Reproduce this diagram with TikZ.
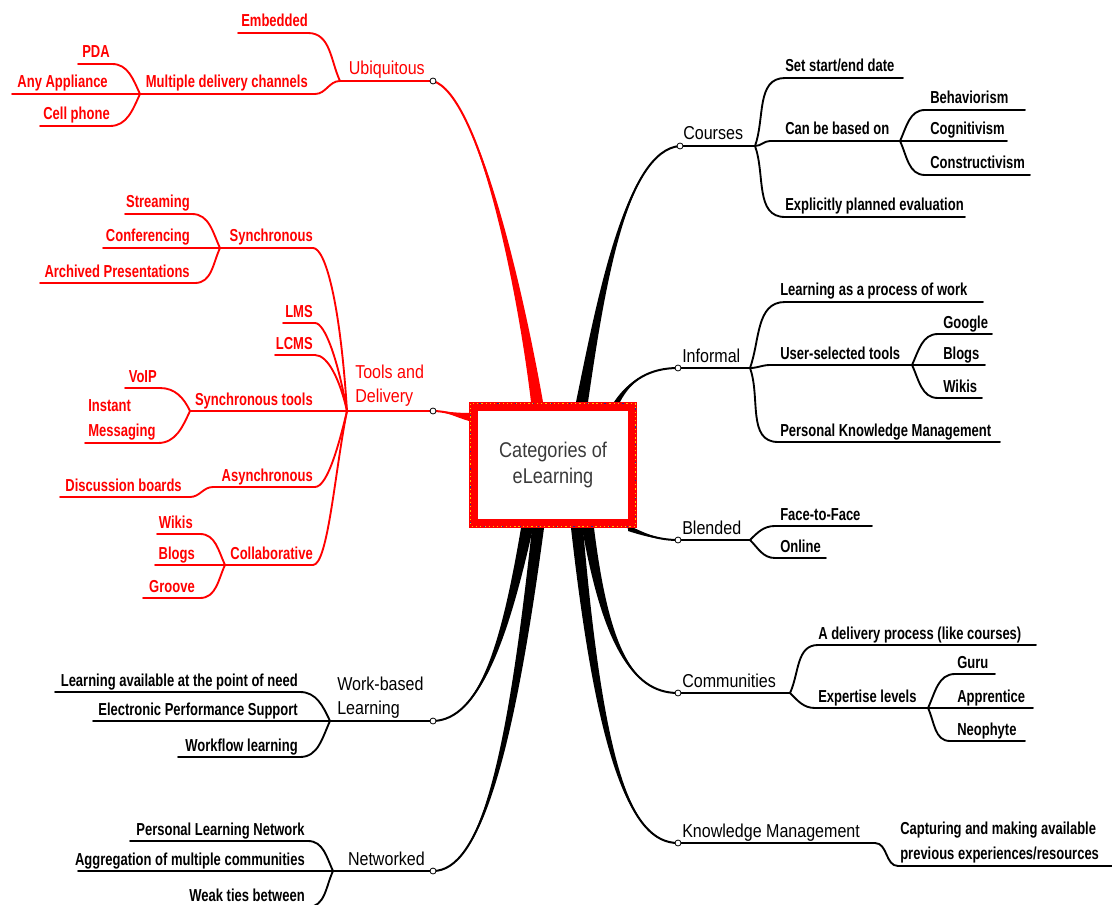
\documentclass[tikz,border=0pt]{standalone}
\usepackage{fontspec}
\setmainfont{Liberation Sans}
\newfontfamily\lfont[FakeStretch=0.75]{Liberation Sans}
\newfontfamily\mfont[FakeStretch=0.86]{Liberation Sans}
\newfontfamily\cfont[FakeStretch=0.85]{Liberation Sans}
\usetikzlibrary{calc}
\definecolor{boxtext}{HTML}{3A3A3A}
\definecolor{dotyel}{HTML}{FFC400}
\definecolor{dotblue}{HTML}{2030A0}
\tikzset{
  leaf/.style={font=\lfont\bfseries\fontsize{13}{18.75}\selectfont, inner sep=0pt},
  mainlbl/.style={font=\mfont\fontsize{14}{18}\selectfont, inner sep=0pt},
  ul/.style={line width=1.4pt, line cap=round},
  knob/.style={circle, draw=black, fill=white, line width=0.6pt, inner sep=0pt, minimum size=4.5pt},
}
% leaf: color, name, x1, x2, y, anchor, text x, text
\newcommand\lf[8]{%
  \coordinate (#2-l) at (#3,#5);
  \coordinate (#2-r) at (#4,#5);
  \draw[ul,#1] (#2-l) -- (#2-r);
  \node[leaf,text=#1,anchor=#6] (#2) at (#7,#5-6) {#8};
}
\newcommand\mlf[8]{%
  \coordinate (#2-l) at (#3,#5);
  \coordinate (#2-r) at (#4,#5);
  \draw[ul,#1] (#2-l) -- (#2-r);
  \node[mainlbl,text=#1,anchor=#6] (#2) at (#7,#5-6) {#8};
}
\newcommand\uline[5]{%
  \coordinate (#2-l) at (#3,#5);
  \coordinate (#2-r) at (#4,#5);
  \draw[ul,#1] (#2-l) -- (#2-r);
}
% tapered main branch: color, start, c1, c2, end, half-width vector
\newcommand\taper[6]{%
  \fill[#1] ($(#2)+#6$) .. controls ($(#3)+0.5*#6$) and (#4) .. (#5)
     .. controls (#4) and ($(#3)-0.5*#6$) .. ($(#2)-#6$) -- cycle;
  \draw[#1,line width=1.5pt] (#2) .. controls (#3) and (#4) .. (#5);
}
\begin{document}
\begin{tikzpicture}[x=0.75pt,y=-0.75pt]
\useasboundingbox (0,0) rectangle (1112,905);
\fill[white] (0,0) rectangle (1112,905);

% ================= LEFT: Ubiquitous =================
\mlf{red}{ubi}{340}{433}{81}{base east}{425}{Ubiquitous}
\lf{red}{emb}{238}{308}{33}{base east}{308}{Embedded}
\lf{red}{mdc}{140}{315}{94}{base east}{308}{Multiple delivery channels}
\lf{red}{pda}{78}{112}{64}{base east}{110}{PDA}
\lf{red}{any}{12}{140}{94}{base east}{108}{Any Appliance}
\lf{red}{cell}{40}{110}{126}{base east}{110}{Cell phone}
\draw[ul,red] (emb-r) to[out=0,in=115] (ubi-l);
\draw[ul,red] (mdc-r) to[out=0,in=180] (ubi-l);
\draw[ul,red] (pda-r) to[out=0,in=115] (mdc-l);
\draw[ul,red] (cell-r) to[out=0,in=-115] (mdc-l);

% ================= LEFT: Tools and Delivery =================
\uline{red}{td}{347}{433}{411}
\node[mainlbl,text=red,align=left,anchor=west] (tdl) at (355,386) {Tools and\\Delivery};
\lf{red}{syn}{220}{313}{248}{base east}{313}{Synchronous}
\lf{red}{str}{125}{192}{214}{base east}{190}{Streaming}
\lf{red}{conf}{103}{220}{248}{base east}{190}{Conferencing}
\lf{red}{arch}{40}{195}{283}{base east}{190}{Archived Presentations}
\lf{red}{lms}{283}{315}{323}{base east}{313}{LMS}
\lf{red}{lcms}{275}{315}{355}{base east}{313}{LCMS}
\lf{red}{stl}{190}{347}{411}{base east}{313}{Synchronous tools}
\lf{red}{voip}{125}{160}{388}{base east}{157}{VoIP}
\uline{red}{im}{85}{158}{443}
\node[leaf,text=red,align=left,anchor=west] (iml) at (88,420) {Instant\\Messaging};
\lf{red}{asy}{213}{315}{487}{base east}{313}{Asynchronous}
\lf{red}{dis}{60}{190}{497}{base east}{182}{Discussion boards}
\lf{red}{col}{225}{313}{565}{base east}{313}{Collaborative}
\lf{red}{wik}{157}{200}{534}{base east}{193}{Wikis}
\lf{red}{blg}{155}{225}{565}{base east}{195}{Blogs}
\lf{red}{grv}{143}{200}{598}{base east}{195}{Groove}
\draw[ul,red] (str-r) to[out=0,in=115] (syn-l);
\draw[ul,red] (arch-r) to[out=0,in=-115] (syn-l);
\draw[ul,red] (syn-r) .. controls (325,248) and (340,300) .. (td-l);
\draw[ul,red] (lms-r) .. controls (325,323) and (338,360) .. (td-l);
\draw[ul,red] (lcms-r) .. controls (328,355) and (340,380) .. (td-l);
\draw[ul,red] (asy-r) .. controls (328,487) and (340,440) .. (td-l);
\draw[ul,red] (col-r) .. controls (328,565) and (335,470) .. (td-l);
\draw[ul,red] (voip-r) to[out=0,in=115] (stl-l);
\draw[ul,red] (im-r) to[out=0,in=-115] (stl-l);
\draw[ul,red] (dis-r) to[out=0,in=180] (asy-l);
\draw[ul,red] (wik-r) to[out=0,in=115] (col-l);
\draw[ul,red] (grv-r) to[out=0,in=-115] (col-l);

% ================= LEFT: Work-based Learning =================
\uline{black}{wbl}{330}{433}{721}
\node[mainlbl,align=left,anchor=west] (wbll) at (337,698) {Work-based\\Learning};
\lf{black}{lav}{55}{300}{692}{base east}{298}{Learning available at the point of need}
\lf{black}{eps}{93}{330}{721}{base east}{298}{Electronic Performance Support}
\lf{black}{wfl}{178}{300}{757}{base east}{298}{Workflow learning}
\draw[ul] (lav-r) to[out=0,in=115] (wbl-l);
\draw[ul] (wfl-r) to[out=0,in=-115] (wbl-l);

% ================= LEFT: Networked =================
\mlf{black}{net}{333}{433}{871}{base east}{425}{Networked}
\lf{black}{pln}{130}{308}{841}{base east}{305}{Personal Learning Network}
\lf{black}{agg}{78}{333}{871}{base east}{305}{Aggregation of multiple communities}
\lf{black}{weak}{180}{308}{907}{base east}{305}{Weak ties between}
\draw[ul] (pln-r) to[out=0,in=115] (net-l);
\draw[ul] (weak-r) to[out=0,in=-115] (net-l);

% ================= RIGHT: Courses =================
\mlf{black}{crs}{680}{755}{146}{base west}{683}{Courses}
\lf{black}{sse}{785}{903}{78}{base west}{785}{Set start/end date}
\lf{black}{cbo}{770}{900}{141}{base west}{785}{Can be based on}
\lf{black}{beh}{925}{1025}{110}{base west}{930}{Behaviorism}
\lf{black}{cog}{900}{1007}{141}{base west}{930}{Cognitivism}
\lf{black}{con}{925}{1030}{175}{base west}{930}{Constructivism}
\lf{black}{epe}{785}{965}{217}{base west}{785}{Explicitly planned evaluation}
\draw[ul] (crs-r) to[out=70,in=180] (sse-l);
\draw[ul] (crs-r) to[out=0,in=180] (cbo-l);
\draw[ul] (crs-r) to[out=-70,in=180] (epe-l);
\draw[ul] (cbo-r) to[out=65,in=180] (beh-l);
\draw[ul] (cbo-r) to[out=-65,in=180] (con-l);

% ================= RIGHT: Informal =================
\mlf{black}{inf}{678}{750}{368}{base west}{682}{Informal}
\lf{black}{lpw}{785}{983}{302}{base west}{780}{Learning as a process of work}
\lf{black}{ust}{770}{912}{365}{base west}{780}{User-selected tools}
\lf{black}{goo}{938}{992}{334}{base west}{943}{Google}
\lf{black}{blo}{912}{985}{365}{base west}{943}{Blogs}
\lf{black}{wkr}{938}{982}{398}{base west}{943}{Wikis}
\lf{black}{pkm}{778}{1000}{442}{base west}{780}{Personal Knowledge Management}
\draw[ul] (inf-r) to[out=70,in=180] (lpw-l);
\draw[ul] (inf-r) to[out=0,in=180] (ust-l);
\draw[ul] (inf-r) to[out=-70,in=180] (pkm-l);
\draw[ul] (ust-r) to[out=65,in=180] (goo-l);
\draw[ul] (ust-r) to[out=-65,in=180] (wkr-l);

% ================= RIGHT: Blended =================
\mlf{black}{bln}{678}{750}{540}{base west}{682}{Blended}
\lf{black}{f2f}{775}{872}{526}{base west}{780}{Face-to-Face}
\lf{black}{onl}{775}{826}{558}{base west}{780}{Online}
\draw[ul] (bln-r) to[out=45,in=180] (f2f-l);
\draw[ul] (bln-r) to[out=-45,in=180] (onl-l);

% ================= RIGHT: Communities =================
\mlf{black}{com}{678}{790}{693}{base west}{682}{Communities}
\lf{black}{dlp}{818}{1036}{645}{base west}{818}{A delivery process (like courses)}
\lf{black}{exl}{815}{928}{708}{base west}{818}{Expertise levels}
\lf{black}{guru}{955}{995}{674}{base west}{957}{Guru}
\lf{black}{app}{928}{1033}{708}{base west}{957}{Apprentice}
\lf{black}{neo}{950}{1025}{741}{base west}{957}{Neophyte}
\draw[ul] (com-r) to[out=65,in=180] (dlp-l);
\draw[ul] (com-r) to[out=-45,in=180] (exl-l);
\draw[ul] (exl-r) to[out=65,in=180] (guru-l);
\draw[ul] (exl-r) to[out=-65,in=180] (neo-l);

% ================= RIGHT: Knowledge Management =================
\mlf{black}{km}{678}{875}{843}{base west}{682}{Knowledge Management}
\uline{black}{cap}{898}{1112}{866}
\node[leaf,align=left,anchor=west] (capl) at (900,843) {Capturing and making available\\previous experiences/resources};
\draw[ul] (km-r) to[out=0,in=180] (cap-l);

% ================= main branches =================
\coordinate (s-ubi) at (537,402);
\coordinate (s-td)  at (469,417);
\coordinate (s-crs) at (582,402);
\coordinate (s-inf) at (617,402);
\coordinate (s-bln) at (628,528);
\coordinate (s-wbl) at (527,528);
\coordinate (s-net) at (538,528);
\coordinate (s-com) at (588,528);
\coordinate (s-km)  at (577,528);
\taper{red}{s-ubi}{522,300}{480,95}{ubi-r}{(6,0)}
\taper{red}{s-td}{455,415}{445,411}{td-r}{(0,4)}
\taper{black}{s-crs}{600,300}{625,150}{crs-l}{(6,0)}
\taper{black}{s-inf}{630,380}{650,368}{inf-l}{(3,0)}
\taper{black}{s-bln}{645,535}{660,540}{bln-l}{(0,3)}
\taper{black}{s-wbl}{505,640}{480,720}{wbl-r}{(6,0)}
\taper{black}{s-net}{510,760}{480,871}{net-r}{(6,0)}
\taper{black}{s-com}{605,640}{630,693}{com-l}{(6,0)}
\taper{black}{s-km}{600,760}{630,843}{km-l}{(6,0)}

% ================= central node =================
\node[draw=red, line width=6.75pt, fill=white, minimum width=119.25pt, minimum height=87.75pt,
      inner sep=0pt, align=center, text=boxtext, font=\cfont\fontsize{16}{19.5}\selectfont]
      (root) at (553,465) {Categories of\\eLearning};
\draw[dotyel, line width=1pt, dash pattern=on 1pt off 2.2pt]
  ([shift={(1.2pt,-1.2pt)}]root.north west) rectangle ([shift={(-1.2pt,1.2pt)}]root.south east);
\draw[dotblue, line width=1pt, dash pattern=on 1pt off 12.4pt, dash phase=5pt]
  ([shift={(1.2pt,-1.2pt)}]root.north west) rectangle ([shift={(-1.2pt,1.2pt)}]root.south east);

% ================= knobs =================
\node[knob] (ubi-k) at (ubi-r) {};
\node[knob] (td-k)  at (td-r) {};
\node[knob] (wbl-k) at (wbl-r) {};
\node[knob] (net-k) at (net-r) {};
\node[knob] (crs-k) at (crs-l) {};
\node[knob] (inf-k) at (inf-l) {};
\node[knob] (bln-k) at (bln-l) {};
\node[knob] (com-k) at (com-l) {};
\node[knob] (km-k)  at (km-l) {};
\end{tikzpicture}
\end{document}
